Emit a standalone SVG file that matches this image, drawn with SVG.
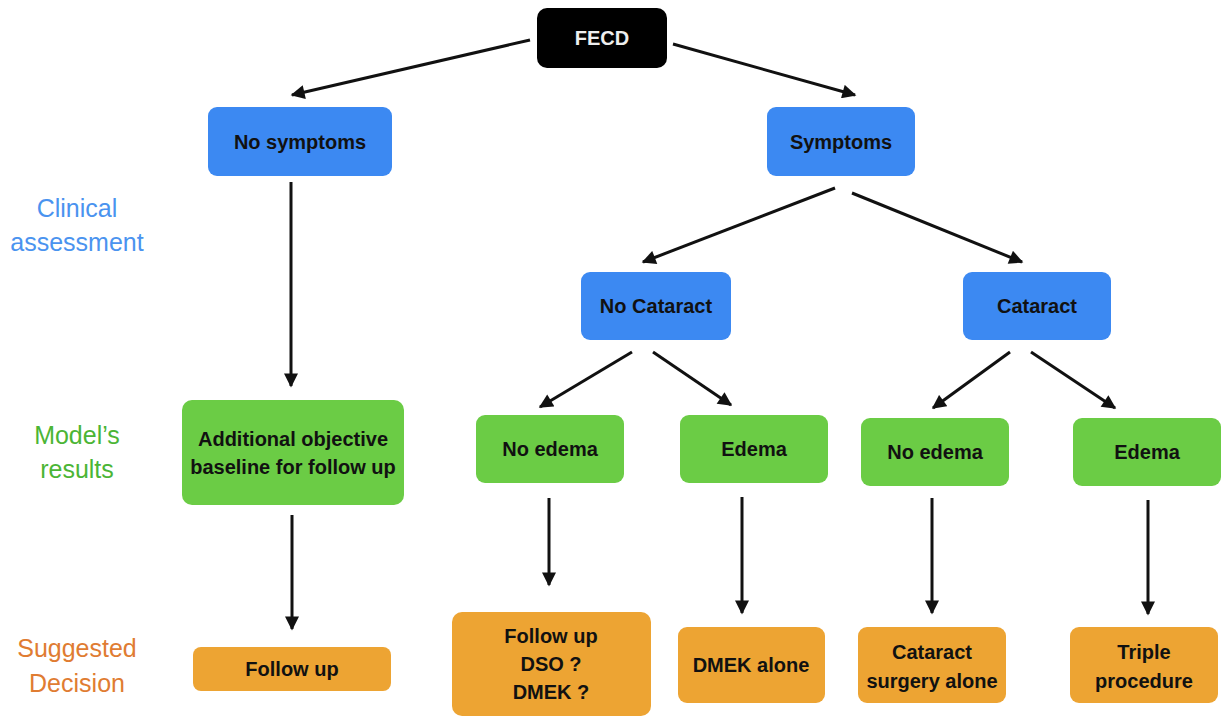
<svg xmlns="http://www.w3.org/2000/svg" width="1225" height="717" viewBox="0 0 1225 717">
<defs>
<marker id="ah" viewBox="0 0 10 10" refX="9" refY="5" markerWidth="15" markerHeight="14" markerUnits="userSpaceOnUse" orient="auto">
<path d="M0,0 L10,5 L0,10 Z" fill="#111"/>
</marker>
<style>
.blue{fill:#3c89f2}
.green{fill:#6bcc45}
.orange{fill:#eda433}
.t{font-family:"Liberation Sans",Arial,sans-serif;font-size:20px;font-weight:bold;fill:#111;text-anchor:middle}
.side{font-family:"Liberation Sans",Arial,sans-serif;font-size:25px;text-anchor:middle}
.c{stroke:#111;stroke-width:3;fill:none;marker-end:url(#ah)}
</style>
</defs>
<rect width="1225" height="717" fill="#fff"/>
<g id="labels">
<text class="side" x="77" y="217" fill="#4a93ef">Clinical</text>
<text class="side" x="77" y="251" fill="#4a93ef">assessment</text>
<text class="side" x="77" y="444" fill="#4bb535">Model’s</text>
<text class="side" x="77" y="478" fill="#4bb535">results</text>
<text class="side" x="77" y="657" fill="#e07c32">Suggested</text>
<text class="side" x="77" y="692" fill="#e07c32">Decision</text>
</g>
<g id="connectors">
<line class="c" x1="530" y1="40" x2="292" y2="95"/>
<line class="c" x1="673" y1="44" x2="855" y2="95"/>
<line class="c" x1="291" y1="182" x2="291" y2="386"/>
<line class="c" x1="835" y1="188" x2="643" y2="262"/>
<line class="c" x1="852" y1="193" x2="1022" y2="262"/>
<line class="c" x1="632" y1="352" x2="540" y2="407"/>
<line class="c" x1="653" y1="352" x2="731" y2="405"/>
<line class="c" x1="1010" y1="352" x2="933" y2="408"/>
<line class="c" x1="1031" y1="352" x2="1115" y2="408"/>
<line class="c" x1="292" y1="515" x2="292" y2="629"/>
<line class="c" x1="549" y1="498" x2="549" y2="585"/>
<line class="c" x1="742" y1="497" x2="742" y2="613"/>
<line class="c" x1="932" y1="498" x2="932" y2="613"/>
<line class="c" x1="1148" y1="500" x2="1148" y2="614"/>
</g>
<g id="fecd"><rect x="537" y="8" width="130" height="60" rx="10" fill="#000"/><text class="t" x="602" y="45" style="fill:#eee">FECD</text></g>
<g id="nosymptoms"><rect class="blue" x="208" y="107" width="184" height="69" rx="9"/><text class="t" x="300" y="149">No symptoms</text></g>
<g id="symptoms"><rect class="blue" x="767" y="107" width="148" height="69" rx="9"/><text class="t" x="841" y="149">Symptoms</text></g>
<g id="nocataract"><rect class="blue" x="581" y="272" width="150" height="68" rx="9"/><text class="t" x="656" y="313">No Cataract</text></g>
<g id="cataract"><rect class="blue" x="963" y="272" width="148" height="68" rx="9"/><text class="t" x="1037" y="313">Cataract</text></g>
<g id="additional"><rect class="green" x="182" y="400" width="222" height="105" rx="10"/><text class="t" x="293" y="446">Additional objective</text><text class="t" x="293" y="474">baseline for follow up</text></g>
<g id="noedema1"><rect class="green" x="476" y="415" width="148" height="68" rx="9"/><text class="t" x="550" y="456">No edema</text></g>
<g id="edema1"><rect class="green" x="680" y="415" width="148" height="68" rx="9"/><text class="t" x="754" y="456">Edema</text></g>
<g id="noedema2"><rect class="green" x="861" y="418" width="148" height="68" rx="9"/><text class="t" x="935" y="459">No edema</text></g>
<g id="edema2"><rect class="green" x="1073" y="418" width="148" height="68" rx="9"/><text class="t" x="1147" y="459">Edema</text></g>
<g id="followup"><rect class="orange" x="193" y="647" width="198" height="44" rx="8"/><text class="t" x="292" y="676">Follow up</text></g>
<g id="followdso"><rect class="orange" x="452" y="612" width="199" height="104" rx="10"/><text class="t" x="551" y="643">Follow up</text><text class="t" x="551" y="671">DSO ?</text><text class="t" x="551" y="699">DMEK ?</text></g>
<g id="dmek"><rect class="orange" x="678" y="627" width="147" height="76" rx="9"/><text class="t" x="751" y="672">DMEK alone</text></g>
<g id="catsurg"><rect class="orange" x="858" y="627" width="148" height="76" rx="9"/><text class="t" x="932" y="659">Cataract</text><text class="t" x="932" y="688">surgery alone</text></g>
<g id="triple"><rect class="orange" x="1070" y="627" width="148" height="76" rx="9"/><text class="t" x="1144" y="659">Triple</text><text class="t" x="1144" y="688">procedure</text></g>
</svg>
